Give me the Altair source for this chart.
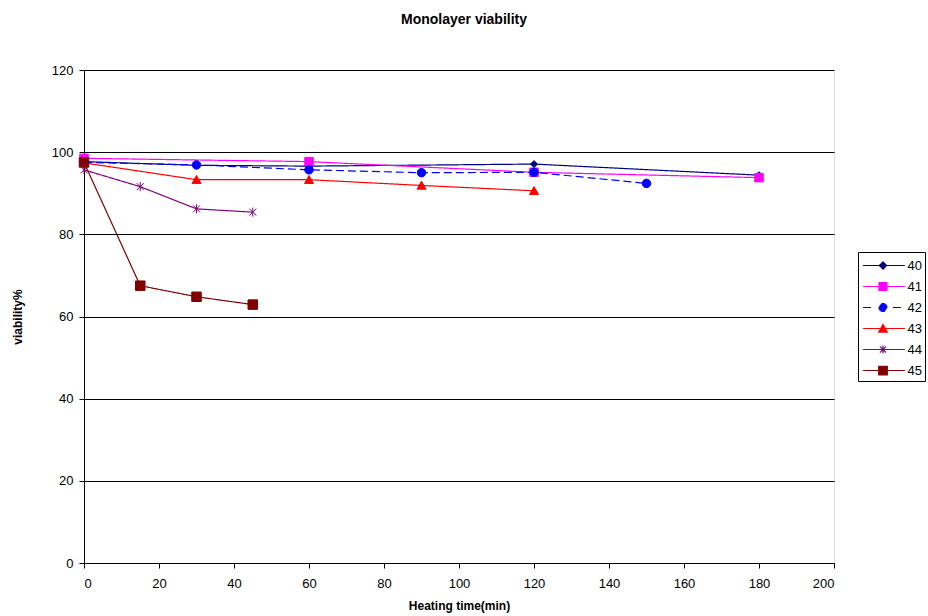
import altair as alt
import pandas as pd

series = ["40", "41", "42", "43", "44", "45"]
t40 = [0, 30, 60, 120, 180]
v40 = [97.7, 96.8, 96.6, 97.1, 94.4]
t41 = [0, 60, 120, 180]
v41 = [98.5, 97.7, 95.1, 93.8]
t42 = [0, 30, 60, 90, 120, 150]
v42 = [97.5, 96.9, 95.7, 95.0, 95.1, 92.4]
t43 = [0, 30, 60, 90, 120]
v43 = [97.4, 93.3, 93.3, 91.9, 90.6]
t44 = [0, 15, 30, 45]
v44 = [95.7, 91.6, 86.2, 85.4]
t45 = [0, 15, 30, 45]
v45 = [97.5, 67.5, 64.8, 62.9]

rows = []
for s, ts, vs in zip(series, [t40, t41, t42, t43, t44, t45], [v40, v41, v42, v43, v44, v45]):
    for t, v in zip(ts, vs):
        rows.append({"series": s, "time": t, "value": v})
df = pd.DataFrame(rows)

colors = ["#000080", "#FF00FF", "#0000FF", "#FF0000", "#800080", "#800000"]
dashes = [[1, 0], [1, 0], [8, 4], [1, 0], [1, 0], [1, 0]]

# data marker shapes (unit coords, size=100 -> 5px per unit)
shapes = {
    "40": "M0,-0.7L0.7,0L0,0.7L-0.7,0Z",
    "41": "M-0.85,-0.85L0.85,-0.85L0.85,0.85L-0.85,0.85Z",
    "42": "M-0.85,0A0.85,0.85,0,1,0,0.85,0A0.85,0.85,0,1,0,-0.85,0Z",
    "43": "M0,-0.85L0.9,0.75L-0.9,0.75Z",
    "44": "M-0.7,-0.7L0.7,0.7M-0.7,0.7L0.7,-0.7M0,-0.9L0,0.9",
    "45": "M-0.95,-0.95L0.95,-0.95L0.95,0.95L-0.95,0.95Z",
}

# legend symbols (unit coords, symbolSize=361 -> 9.5px per unit): line + marker
leg = {
    "40": "M-2.1,0L2.3,0M0,-0.38L0.38,0L0,0.38L-0.38,0Z",
    "41": "M-2.1,0L2.3,0M-0.42,-0.42L0.42,-0.42L0.42,0.42L-0.42,0.42Z",
    "42": "M-2.1,0L-1.15,0M1.05,0L2.0,0M-0.42,0A0.42,0.42,0,1,0,0.42,0A0.42,0.42,0,1,0,-0.42,0Z",
    "43": "M-2.1,0L2.3,0M0,-0.42L0.45,0.38L-0.45,0.38Z",
    "44": "M-2.1,0L2.3,0M-0.32,-0.32L0.32,0.32M-0.32,0.32L0.32,-0.32M0,-0.42L0,0.42",
    "45": "M-2.1,0L2.3,0M-0.45,-0.45L0.45,-0.45L0.45,0.45L-0.45,0.45Z",
}
expr = ""
for s in series[:-1]:
    expr += f"datum.value == '{s}' ? '{leg[s]}' : "
expr += f"'{leg[series[-1]]}'"

FONT = "Liberation Sans"

legend = alt.Legend(
    title=None,
    orient="none",
    legendX=774,
    legendY=182,
    padding=3,
    rowPadding=3,
    strokeColor="#000000",
    fillColor="#FFFFFF",
    symbolSize=361,
    symbolStrokeWidth=1.2,
    symbolType={"expr": expr},
    symbolOffset=11.5,
    labelOffset=14,
    labelFont=FONT,
    labelFontSize=13,
    labelColor="#000000",
)

xaxis = alt.Axis(
    values=list(range(0, 201, 20)),
    grid=False,
    domainColor="#000000",
    tickColor="#000000",
    tickSize=5,
    labelFont=FONT,
    labelFontSize=13,
    labelColor="#000000",
    labelPadding=9,
    title="Heating time(min)",
    titleFont=FONT,
    titleFontSize=12,
    titleFontWeight="bold",
    titleColor="#000000",
    titlePadding=10,
)
yaxis = alt.Axis(
    values=list(range(0, 121, 20)),
    grid=True,
    gridColor="#000000",
    gridWidth=1,
    domainColor="#000000",
    tickColor="#000000",
    tickSize=5,
    labelFont=FONT,
    labelFontSize=13,
    labelColor="#000000",
    labelPadding=6,
    title="viability%",
    titleFont=FONT,
    titleFontSize=12,
    titleFontWeight="bold",
    titleColor="#000000",
    titleX=-60,
)

base = alt.Chart(df).encode(
    x=alt.X("time:Q", scale=alt.Scale(domain=[0, 200], nice=False), axis=xaxis),
    y=alt.Y("value:Q", scale=alt.Scale(domain=[0, 120], nice=False), axis=yaxis),
)

color_scale = alt.Scale(domain=series, range=colors)

lines = base.mark_line(strokeWidth=1.2).encode(
    stroke=alt.Stroke("series:N", scale=color_scale, legend=legend),
    strokeDash=alt.StrokeDash("series:N", scale=alt.Scale(domain=series, range=dashes), legend=None),
    order=alt.Order("time:Q"),
)

point_layers = []
for s in series:
    point_layers.append(
        base.transform_filter(alt.datum.series == s)
        .mark_point(filled=True, opacity=1, size=100, strokeWidth=1, shape=shapes[s])
        .encode(
            fill=alt.Fill("series:N", scale=color_scale, legend=legend),
            stroke=alt.Stroke("series:N", scale=color_scale, legend=legend),
        )
    )

chart = (
    alt.layer(lines, *point_layers)
    .properties(
        width=750,
        height=493,
        autosize=alt.AutoSizeParams(type="none"),
        padding={"left": 84, "top": 70, "right": 94, "bottom": 53},
        title=alt.Title(
            "Monolayer viability",
            font=FONT,
            fontSize=14,
            fontWeight="bold",
            color="#000000",
            offset=37,
            dx=5,
        ),
    )
    .configure_view(stroke="#808080", strokeWidth=1)
    .configure(background="#FFFFFF")
)

chart.save("out.html", embed_options={"renderer": "svg", "actions": False})
